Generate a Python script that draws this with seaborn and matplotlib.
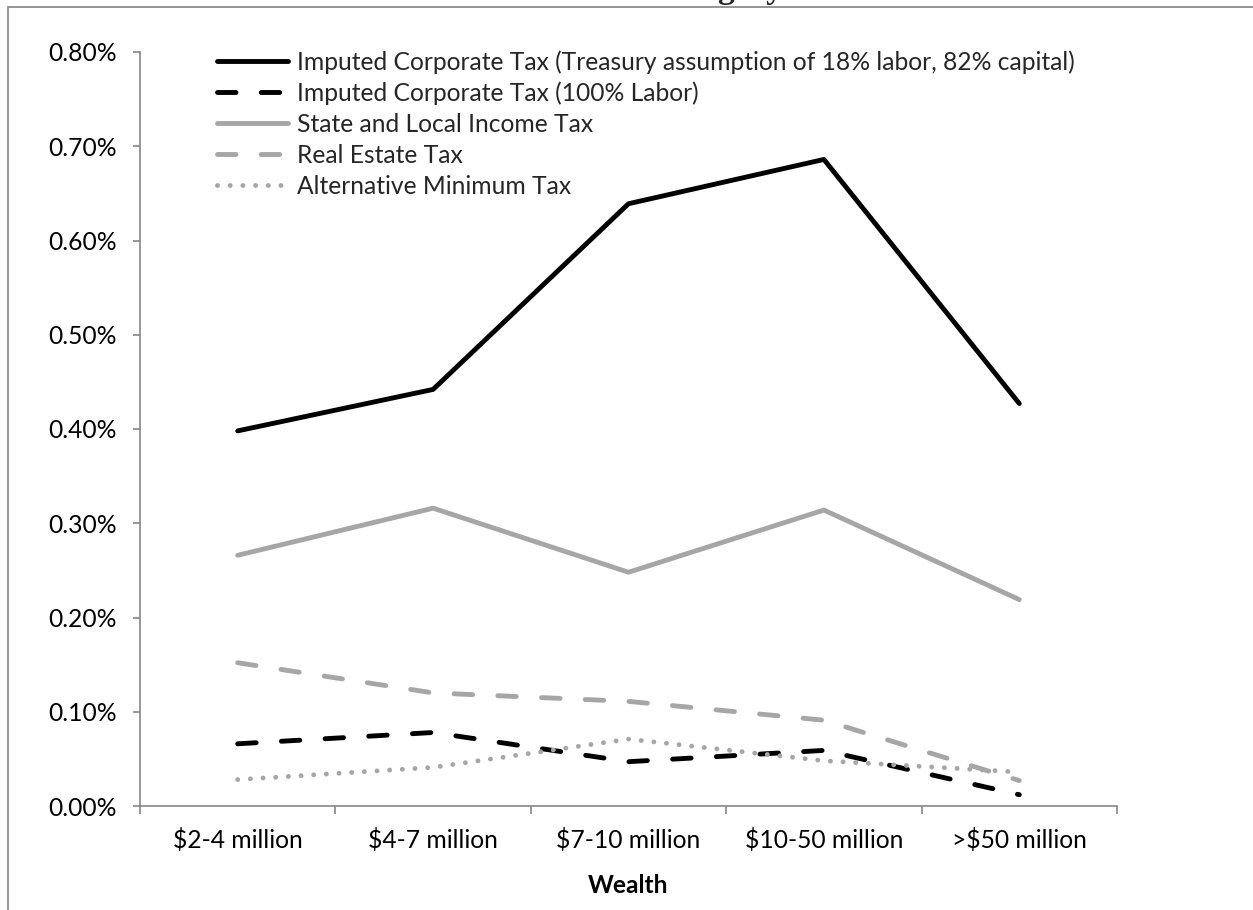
import matplotlib
matplotlib.use("Agg")
import matplotlib.pyplot as plt
import matplotlib.ticker as mticker
from matplotlib.lines import Line2D
from matplotlib.patches import Rectangle
import seaborn as sns
import pandas as pd
import numpy as np

# Wealth brackets
categories = ["$2-4 million", "$4-7 million", "$7-10 million", "$10-50 million", ">$50 million"]

# Tax as a percent of wealth
corp_treasury = [0.398, 0.442, 0.639, 0.686, 0.427]
corp_labor = [0.066, 0.078, 0.047, 0.059, 0.012]
state_local = [0.266, 0.316, 0.248, 0.314, 0.219]
real_estate = [0.152, 0.120, 0.111, 0.091, 0.027]
amt = [0.028, 0.041, 0.071, 0.048, 0.036]

series_names = [
    "Imputed Corporate Tax (Treasury assumption of 18% labor, 82% capital)",
    "Imputed Corporate Tax (100% Labor)",
    "State and Local Income Tax",
    "Real Estate Tax",
    "Alternative Minimum Tax",
]
series_values = [corp_treasury, corp_labor, state_local, real_estate, amt]

yticks = [0.0, 0.1, 0.2, 0.3, 0.4, 0.5, 0.6, 0.7, 0.8]

df = pd.concat(
    [pd.DataFrame({"Wealth": categories, "rate": vals, "series": name})
     for name, vals in zip(series_names, series_values)],
    ignore_index=True,
)

sns.set_theme(style="white")
plt.rcParams["font.family"] = ["Lato", "DejaVu Sans"]

FS = 17.7
BLACK = "#000000"
GRAY = "#A6A6A6"
AXIS = "#868686"
LW = 3.5
styles = [
    dict(color=BLACK, dashes=None),
    dict(color=BLACK, dashes=(3.8, 5.2)),
    dict(color=GRAY, dashes=None),
    dict(color=GRAY, dashes=(3.8, 5.2)),
    dict(color=GRAY, dashes=(0.01, 2.6)),
]

fig = plt.figure(figsize=(12.53, 9.10), dpi=100)
ax = fig.add_axes([140 / 1253, 1 - 806 / 910, (1117 - 140) / 1253, (806 - 52) / 910])

handles = []
for name, st in zip(series_names, styles):
    sub = df[df["series"] == name]
    sns.lineplot(data=sub, x="Wealth", y="rate", ax=ax, color=st["color"],
                 linewidth=LW, sort=False, legend=False)
    line = ax.lines[-1]
    line.set_solid_capstyle("round")
    line.set_dash_capstyle("round")
    line.set_solid_joinstyle("round")
    if st["dashes"] is not None:
        line.set_dashes(st["dashes"])
    h = Line2D([0], [0], color=st["color"], linewidth=LW,
               solid_capstyle="round", dash_capstyle="round")
    if st["dashes"] is not None:
        h.set_dashes(st["dashes"])
    handles.append(h)

ax.set_xlim(-0.5, len(categories) - 0.5)
ax.set_ylim(0, 0.8)
ax.set_yticks(yticks)
ax.yaxis.set_major_formatter(mticker.FuncFormatter(lambda v, p: f"{v:.2f}%"))

# category ticks sit between brackets
ax.set_xticks(range(len(categories)))
ax.set_xticklabels(categories)
ax.set_xticks(np.arange(-0.5, len(categories), 1.0), minor=True)
ax.tick_params(axis="x", which="major", length=0, pad=16, labelsize=FS, labelcolor="black")
ax.tick_params(axis="x", which="minor", length=5.5, width=1.2, color=AXIS, direction="out")
ax.tick_params(axis="y", which="major", length=5, width=1.2, color=AXIS, direction="out",
               pad=12, labelsize=FS, labelcolor="black")
ax.tick_params(bottom=True, left=True, which="both")

for side in ["top", "right"]:
    ax.spines[side].set_visible(False)
for side in ["left", "bottom"]:
    ax.spines[side].set_color(AXIS)
    ax.spines[side].set_linewidth(1.2)

ax.set_xlabel("Wealth", fontsize=FS, fontweight="bold", labelpad=16, color="black")
ax.set_ylabel("")
ax.grid(False)

ax.legend(handles, series_names, loc="upper left",
          bbox_to_anchor=(217 / 1253, 1 - 50 / 910), bbox_transform=fig.transFigure,
          frameon=False, fontsize=FS, handlelength=2.9, handletextpad=0.35,
          labelspacing=0.32, borderaxespad=0, borderpad=0)

# outer frame of the chart area
fig.patches.append(Rectangle((8 / 1253, -0.1), 1.2, 1.1 - 7 / 910, transform=fig.transFigure,
                             fill=False, edgecolor="#8C8C8C", linewidth=1.3, zorder=0))

fig.text(783 / 1253, 1 + 2 / 910, "Other Taxes Relative to Wealth Category",
         ha="right", va="baseline", fontsize=24, fontweight="bold",
         family=["Liberation Serif", "DejaVu Serif"])

fig.savefig("out.png", dpi=100)
